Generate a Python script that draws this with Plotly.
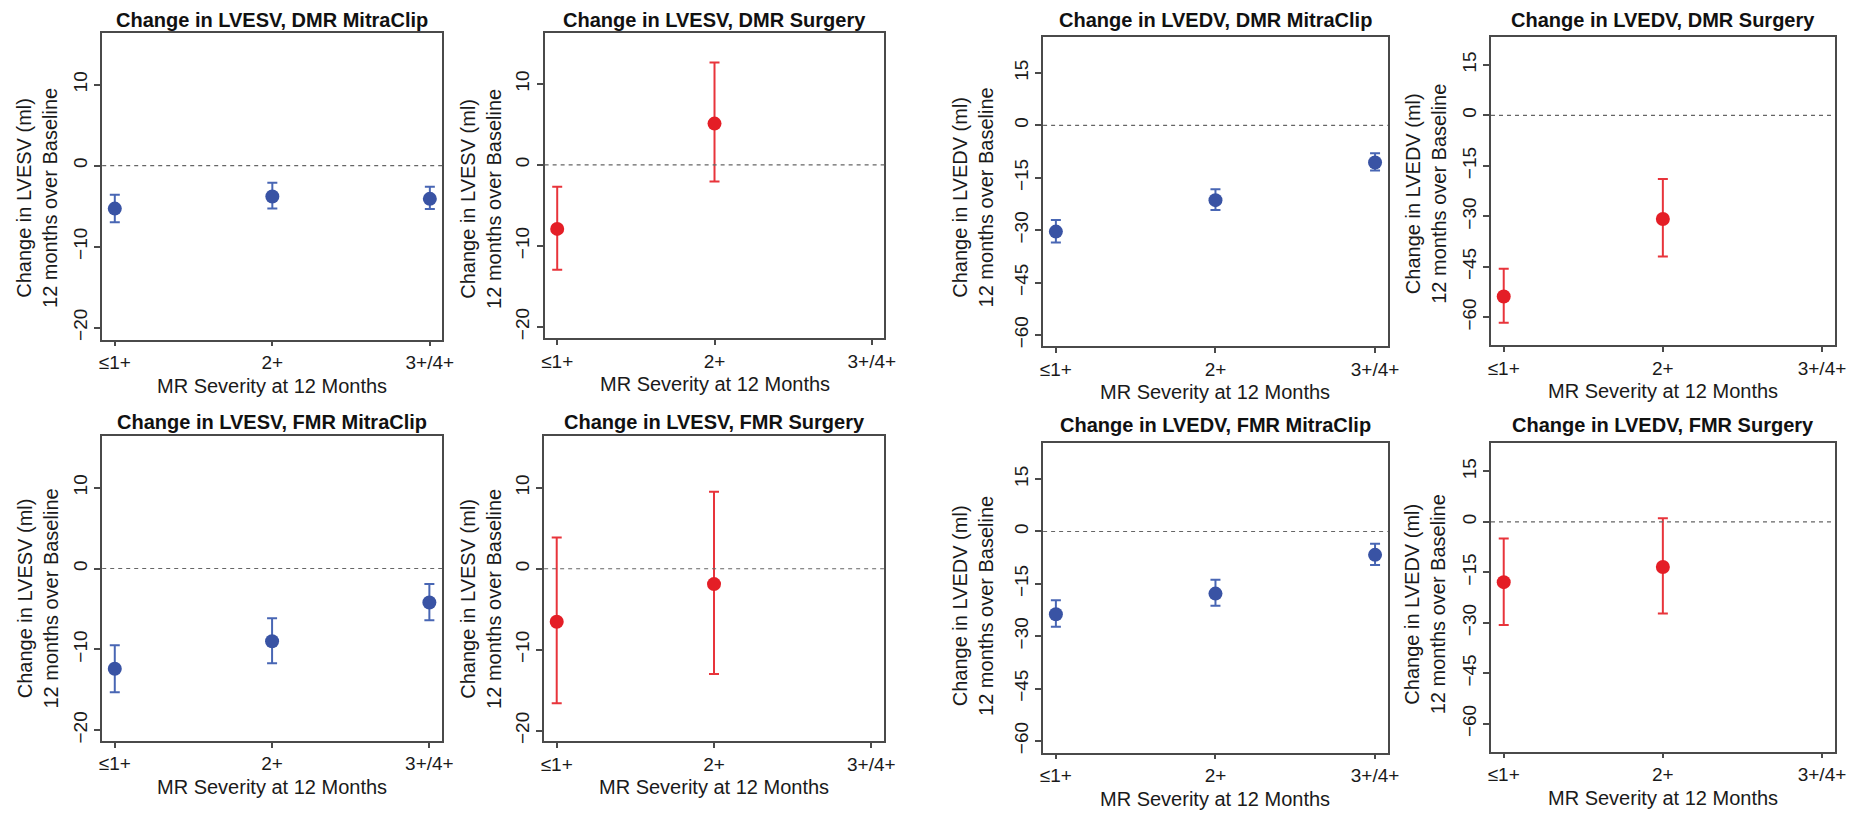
import plotly.graph_objects as go

W, H = 1874, 814

categories = ["≤1+", "2+", "3+/4+"]
cat_pos = [1, 2, 3]

# LVESV
lvesv_dmr_clip_mean = [-5.3, -3.8, -4.1]
lvesv_dmr_clip_lo = [-7.0, -5.3, -5.35]
lvesv_dmr_clip_hi = [-3.6, -2.1, -2.6]

lvesv_dmr_surg_mean = [-7.9, 5.1]
lvesv_dmr_surg_lo = [-12.95, -2.05]
lvesv_dmr_surg_hi = [-2.7, 12.65]

lvesv_fmr_clip_mean = [-12.4, -9.0, -4.2]
lvesv_fmr_clip_lo = [-15.3, -11.7, -6.4]
lvesv_fmr_clip_hi = [-9.5, -6.15, -1.9]

lvesv_fmr_surg_mean = [-6.55, -1.9]
lvesv_fmr_surg_lo = [-16.6, -13.0]
lvesv_fmr_surg_hi = [3.85, 9.5]

# LVEDV
lvedv_dmr_clip_mean = [-30.4, -21.4, -10.6]
lvedv_dmr_clip_lo = [-33.5, -24.2, -12.9]
lvedv_dmr_clip_hi = [-27.1, -18.25, -8.0]

lvedv_dmr_surg_mean = [-53.8, -30.8]
lvedv_dmr_surg_lo = [-61.6, -41.9]
lvedv_dmr_surg_hi = [-45.6, -18.9]

lvedv_fmr_clip_mean = [-23.7, -17.8, -6.7]
lvedv_fmr_clip_lo = [-27.3, -21.3, -9.6]
lvedv_fmr_clip_hi = [-19.7, -13.8, -3.5]

lvedv_fmr_surg_mean = [-17.9, -13.4]
lvedv_fmr_surg_lo = [-30.6, -27.2]
lvedv_fmr_surg_hi = [-4.9, 1.1]

lvesv_ticks = [-20, -10, 0, 10]
lvedv_ticks = [-60, -45, -30, -15, 0, 15]

BLUE = "#3953A4"
BLUE_BAR = "#4866B4"
RED = "#E41E26"
RED_BAR = "#E8343B"

FONT = "Liberation Sans, Arial, Helvetica, sans-serif"
FS = 20
TFS = 19

panels = [
    ("Change in LVESV, DMR MitraClip", "LVESV", lvesv_dmr_clip_mean, lvesv_dmr_clip_lo, lvesv_dmr_clip_hi, BLUE, BLUE_BAR,
     (100, 443, 33, 341), [-21.5, 16.4], lvesv_ticks, 20, 35, 199),
    ("Change in LVESV, DMR Surgery", "LVESV", lvesv_dmr_surg_mean, lvesv_dmr_surg_lo, lvesv_dmr_surg_hi, RED, RED_BAR,
     (546, 888.5, 33, 339.5), [-21.4, 16.3], lvesv_ticks, 20, 482.5, 200),
    ("Change in LVEDV, DMR MitraClip", "LVEDV", lvedv_dmr_clip_mean, lvedv_dmr_clip_lo, lvedv_dmr_clip_hi, BLUE, BLUE_BAR,
     (1048.5, 1396, 37.5, 347.5), [-63.2, 25.2], lvedv_ticks, 20, 978, 198),
    ("Change in LVEDV, DMR Surgery", "LVEDV", lvedv_dmr_surg_mean, lvedv_dmr_surg_lo, lvedv_dmr_surg_hi, RED, RED_BAR,
     (1500, 1846.5, 37.5, 346.5), [-68.3, 23.2], lvedv_ticks, 20, 1435, 195),
    ("Change in LVESV, FMR MitraClip", "LVESV", lvesv_fmr_clip_mean, lvesv_fmr_clip_lo, lvesv_fmr_clip_hi, BLUE, BLUE_BAR,
     (100, 442.5, 437.5, 743.5), [-21.3, 16.4], lvesv_ticks, 423.5, 35, 601),
    ("Change in LVESV, FMR Surgery", "LVESV", lvesv_fmr_surg_mean, lvesv_fmr_surg_lo, lvesv_fmr_surg_hi, RED, RED_BAR,
     (545.5, 888, 437.5, 744), [-21.3, 16.4], lvesv_ticks, 423.5, 482.5, 601.5),
    ("Change in LVEDV, FMR MitraClip", "LVEDV", lvedv_fmr_clip_mean, lvedv_fmr_clip_lo, lvedv_fmr_clip_hi, BLUE, BLUE_BAR,
     (1048.5, 1396, 444.5, 755.5), [-63.4, 25.4], lvedv_ticks, 427, 978, 608),
    ("Change in LVEDV, FMR Surgery", "LVEDV", lvedv_fmr_surg_mean, lvedv_fmr_surg_lo, lvedv_fmr_surg_hi, RED, RED_BAR,
     (1500, 1846.5, 444.5, 754.5), [-68.3, 23.5], lvedv_ticks, 427, 1433, 607),
]


def fx(px):
    return px / W


def fy(py):
    return 1 - py / H


fig = go.Figure()
annotations = []
shapes = []
layout_axes = {}

AXCOL = "#4a4a4a"

for i, (title, meas, mean, lo, hi, col, barcol, box, yr, yt, ty, ylx, yly) in enumerate(panels):
    n = i + 1
    xa = "x" if n == 1 else f"x{n}"
    ya = "y" if n == 1 else f"y{n}"
    xkey = "xaxis" if n == 1 else f"xaxis{n}"
    ykey = "yaxis" if n == 1 else f"yaxis{n}"
    x0, x1, y0, y1 = box

    xs = cat_pos[:len(mean)]
    fig.add_trace(go.Scatter(
        x=xs, y=mean, mode="markers", xaxis=xa, yaxis=ya, showlegend=False,
        marker=dict(color=col, size=14, line=dict(width=0)),
        error_y=dict(type="data", symmetric=False,
                     array=[h - m for h, m in zip(hi, mean)],
                     arrayminus=[m - l for m, l in zip(mean, lo)],
                     color=barcol, thickness=2, width=5),
    ))

    layout_axes[xkey] = dict(
        domain=[fx(x0), fx(x1)], anchor=ya, range=[0.92, 3.08],
        tickmode="array", tickvals=cat_pos, ticktext=categories,
        showline=True, mirror=True, linecolor=AXCOL, linewidth=1.5,
        ticks="outside", ticklen=5, tickwidth=1.5, tickcolor=AXCOL,
        showgrid=False, zeroline=False,
        tickfont=dict(family=FONT, size=TFS, color="#1a1a1a"),
    )
    layout_axes[ykey] = dict(
        domain=[fy(y1), fy(y0)], anchor=xa, range=yr,
        tickmode="array", tickvals=yt, ticktext=[str(v).replace("-", "\u2212") for v in yt],
        tickangle=-90,
        showline=True, mirror=True, linecolor=AXCOL, linewidth=1.5,
        ticks="outside", ticklen=6, tickwidth=1.5, tickcolor=AXCOL,
        showgrid=False, zeroline=False,
        tickfont=dict(family=FONT, size=TFS, color="#1a1a1a"),
    )

    shapes.append(dict(type="line", xref=f"{xa} domain", yref=ya, x0=0, x1=1, y0=0, y1=0,
                       line=dict(color="#666666", width=1.2, dash="4px,4px")))

    annotations.append(dict(text=f"<b>{title}</b>", xref="paper", yref="paper",
                            x=fx((x0 + x1) / 2), y=fy(ty), xanchor="center", yanchor="middle",
                            showarrow=False, font=dict(family=FONT, size=FS, color="#111111")))
    annotations.append(dict(text="MR Severity at 12 Months", xref="paper", yref="paper",
                            x=fx((x0 + x1) / 2), y=fy(y1 + 46), xanchor="center", yanchor="middle",
                            showarrow=False, font=dict(family=FONT, size=FS, color="#1a1a1a")))
    annotations.append(dict(text=f"Change in {meas} (ml)<br>12 months over Baseline",
                            xref="paper", yref="paper", x=fx(ylx), y=fy(yly),
                            xanchor="center", yanchor="middle", textangle=-90,
                            showarrow=False, font=dict(family=FONT, size=FS, color="#1a1a1a")))

fig.update_layout(
    width=W, height=H, autosize=False,
    margin=dict(l=0, r=0, t=0, b=0),
    paper_bgcolor="white", plot_bgcolor="white",
    annotations=annotations, shapes=shapes,
    **layout_axes,
)

fig.write_html("out.html")
